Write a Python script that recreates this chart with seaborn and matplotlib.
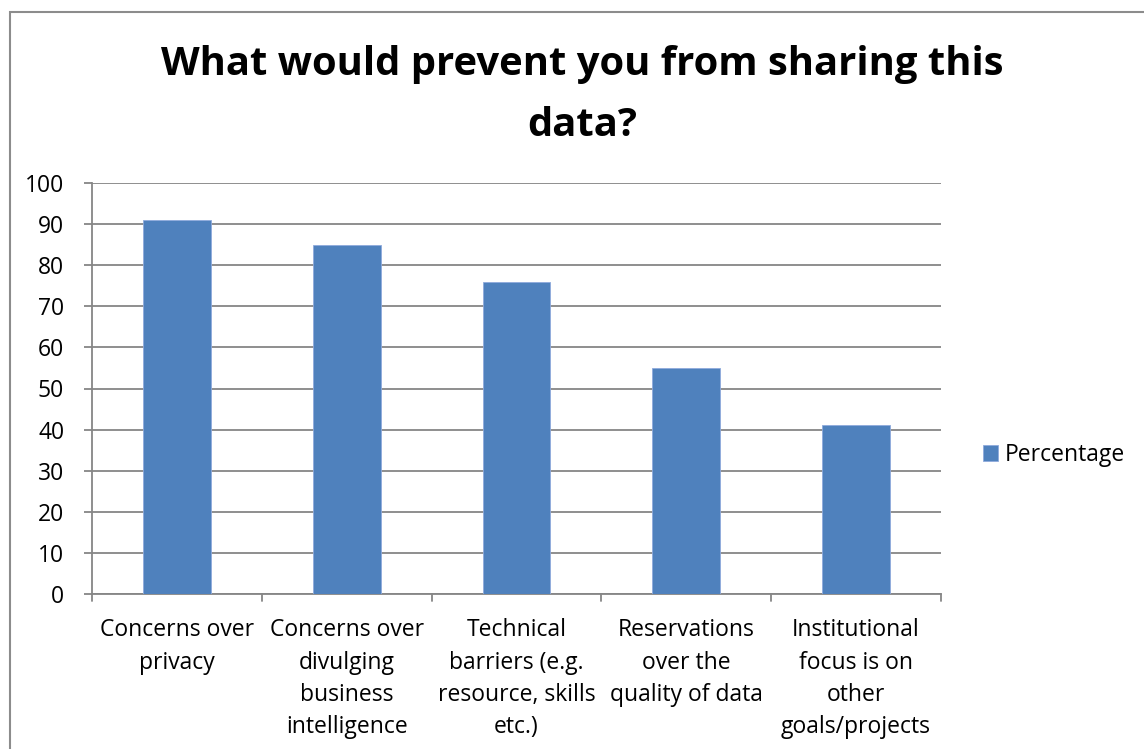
import matplotlib
matplotlib.use("Agg")
import matplotlib.pyplot as plt
import seaborn as sns
import pandas as pd
from matplotlib.patches import Rectangle

categories = [
    "Concerns over\nprivacy",
    "Concerns over\ndivulging\nbusiness\nintelligence",
    "Technical\nbarriers (e.g.\nresource, skills\netc.)",
    "Reservations\nover the\nquality of data",
    "Institutional\nfocus is on\nother\ngoals/projects",
]
percentages = [91, 85, 76, 55, 41]
series_name = "Percentage"
y_ticks = [0, 10, 20, 30, 40, 50, 60, 70, 80, 90, 100]

df = pd.DataFrame({"category": categories, "value": percentages,
                   "series": [series_name] * len(categories)})

sns.set_theme(style="white")
plt.rcParams["font.family"] = ["Open Sans", "DejaVu Sans"]
plt.rcParams["text.color"] = "black"

fig = plt.figure(figsize=(11.44, 7.49), dpi=100)
ax = fig.add_axes([92 / 1144, 1 - 594 / 749, (941 - 92) / 1144, (594 - 183) / 749])

grid_color = "#868686"
sns.barplot(data=df, x="category", y="value", hue="series", palette=["#4F81BD"],
            saturation=1, width=0.4, dodge=False, ax=ax, zorder=3,
            edgecolor="#8FAADC", linewidth=0.6)

ax.set_ylim(0, 100)
ax.set_xlim(-0.5, len(categories) - 0.5)
ax.set_yticks(y_ticks)
ax.yaxis.grid(True, color=grid_color, linewidth=1.3, zorder=0)
ax.set_axisbelow(True)
ax.set_xlabel("")
ax.set_ylabel("")

for side in ("top", "right"):
    ax.spines[side].set_visible(False)
for side in ("left", "bottom"):
    ax.spines[side].set_color(grid_color)
    ax.spines[side].set_linewidth(1.3)

label_size = 16.5
ax.tick_params(axis="y", direction="out", length=6, width=1.3, color=grid_color,
               labelsize=label_size, pad=14, left=True, labelcolor="black")
ax.set_xticks(range(len(categories)))
ax.set_xticklabels(categories, fontsize=label_size, linespacing=1.46)
ax.tick_params(axis="x", length=0, pad=17.5, labelsize=label_size, labelcolor="black")

# Separator ticks between categories on the category axis
for b in [i - 0.5 for i in range(len(categories) + 1)]:
    ax.plot([b, b], [0, -1.7], color=grid_color, linewidth=1.3, clip_on=False, zorder=4)

leg = ax.legend(loc="center left", bbox_to_anchor=(1.05, 0.338), frameon=False,
                fontsize=label_size, handlelength=0.65, handleheight=0.65,
                handletextpad=0.3, borderaxespad=0, borderpad=0)
for t in leg.get_texts():
    t.set_color("black")

fig.text(0.509, 1 - 95 / 749, "What would prevent you from sharing this\ndata?",
         ha="center", va="center", fontsize=28.8, fontweight="bold",
         linespacing=1.72, color="black")

# Chart frame
fig.patches.append(Rectangle((10 / 1144, -0.05), 1.1, 1.05 - 12 / 749,
                             transform=fig.transFigure, fill=False,
                             edgecolor="#8C8C8C", linewidth=1.5))

fig.savefig("out.png", dpi=100, facecolor="white")
